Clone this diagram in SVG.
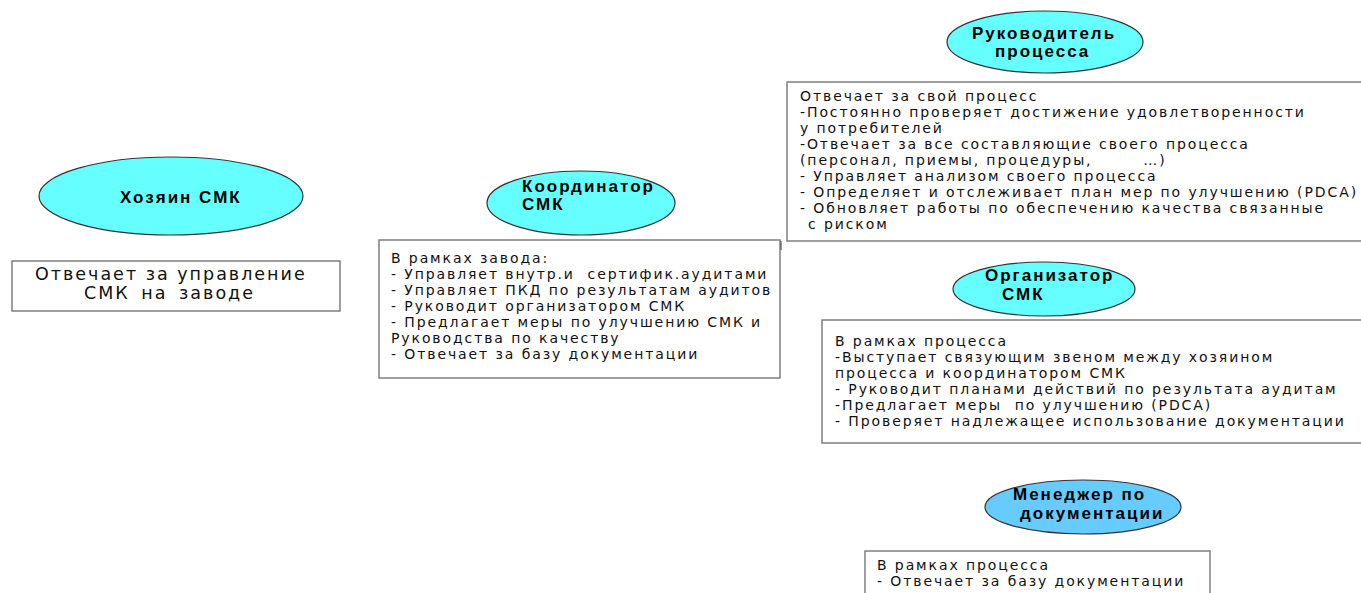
<svg xmlns="http://www.w3.org/2000/svg" width="1361" height="593" viewBox="0 0 1361 593">
  <style>
    .role { stroke: #333; stroke-width: 1.2; }
    .cyan { fill: #66FFFF; }
    .blue { fill: #66CCFF; }
    .title { font-family: "Liberation Sans", Arial, sans-serif; font-weight: bold; font-size: 17px; letter-spacing: 2px; fill: #000; }
    .box { fill: #fff; stroke: #7f7f7f; stroke-width: 1.5; }
    .body { font-family: "DejaVu Sans", Verdana, sans-serif; font-size: 14px; letter-spacing: 1.9px; fill: #111; }
    .big { font-family: "DejaVu Sans", Verdana, sans-serif; font-size: 17.5px; letter-spacing: 2px; fill: #111; }
  </style>
  <rect width="1361" height="593" fill="#fff"/>

  <!-- Owner of the QMS -->
  <g id="owner">
    <ellipse class="role cyan" cx="171" cy="196" rx="132" ry="39"/>
    <text class="title" x="120" y="203" letter-spacing="3">Хозяин СМК</text>
  </g>
  <g id="owner-duties">
    <rect class="box" x="12" y="261" width="328" height="50"/>
    <text class="big" x="35" y="280">Отвечает за управление</text>
    <text class="big" x="84" y="299" word-spacing="4">СМК на заводе</text>
  </g>

  <!-- QMS coordinator -->
  <g id="coordinator">
    <ellipse class="role cyan" cx="581" cy="203" rx="94" ry="32"/>
    <text class="title" x="522" y="192">Координатор</text>
    <text class="title" x="522" y="210">СМК</text>
  </g>
  <g id="coordinator-duties">
    <rect class="box" x="379" y="240" width="401" height="138"/>
    <text class="body" x="391" y="263">В рамках завода:</text>
    <text class="body" x="391" y="279" xml:space="preserve">- Управляет внутр.и  сертифик.аудитами</text>
    <text class="body" x="391" y="295">- Управляет ПКД по результатам аудитов</text>
    <text class="body" x="391" y="311">- Руководит организатором СМК</text>
    <text class="body" x="391" y="327">- Предлагает меры по улучшению СМК и</text>
    <text class="body" x="391" y="343">Руководства по качеству</text>
    <text class="body" x="391" y="359">- Отвечает за базу документации</text>
  </g>

  <!-- Process leader -->
  <g id="process-leader">
    <ellipse class="role cyan" cx="1045" cy="42" rx="98" ry="31"/>
    <text class="title" x="972" y="39">Руководитель</text>
    <text class="title" x="995" y="57">процесса</text>
  </g>
  <g id="process-leader-duties">
    <rect class="box" x="787" y="82" width="580" height="159"/>
    <line x1="781" y1="241" x2="781" y2="250" stroke="#555" stroke-width="1.2"/>
    <text class="body" x="800" y="101">Отвечает за свой процесс</text>
    <text class="body" x="800" y="117">-Постоянно проверяет достижение удовлетворенности</text>
    <text class="body" x="800" y="133">у потребителей</text>
    <text class="body" x="800" y="149">-Отвечает за все составляющие своего процесса</text>
    <text class="body" x="800" y="165" xml:space="preserve">(персонал, приемы, процедуры,        …)</text>
    <text class="body" x="800" y="181">- Управляет анализом своего процесса</text>
    <text class="body" x="800" y="197">- Определяет и отслеживает план мер по улучшению (PDCA)</text>
    <text class="body" x="800" y="213">- Обновляет работы по обеспечению качества связанные</text>
    <text class="body" x="808" y="229">с риском</text>
  </g>

  <!-- QMS organiser -->
  <g id="organiser">
    <ellipse class="role cyan" cx="1044" cy="289" rx="91" ry="27"/>
    <text class="title" x="985" y="281">Организатор</text>
    <text class="title" x="1002" y="300">СМК</text>
  </g>
  <g id="organiser-duties">
    <rect class="box" x="822" y="320" width="545" height="123"/>
    <text class="body" x="835" y="346">В рамках процесса</text>
    <text class="body" x="835" y="362">-Выступает связующим звеном между хозяином</text>
    <text class="body" x="835" y="378">процесса и координатором СМК</text>
    <text class="body" x="835" y="394">- Руководит планами действий по результата аудитам</text>
    <text class="body" x="835" y="410" xml:space="preserve">-Предлагает меры  по улучшению (PDCA)</text>
    <text class="body" x="835" y="426">- Проверяет надлежащее использование документации</text>
  </g>

  <!-- Documentation manager -->
  <g id="doc-manager">
    <ellipse class="role blue" cx="1083" cy="507" rx="98" ry="27"/>
    <text class="title" x="1013" y="500" letter-spacing="2.4">Менеджер по</text>
    <text class="title" x="1020" y="519" letter-spacing="3.2">документации</text>
  </g>
  <g id="doc-manager-duties">
    <rect class="box" x="865" y="551" width="345" height="60"/>
    <text class="body" x="877" y="570">В рамках процесса</text>
    <text class="body" x="877" y="586">- Отвечает за базу документации</text>
  </g>
</svg>
